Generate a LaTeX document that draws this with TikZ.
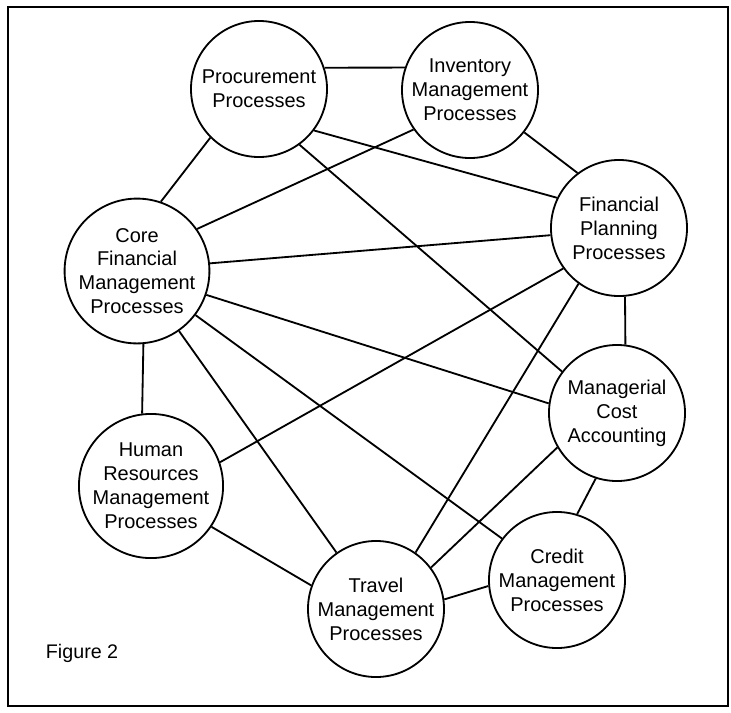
\documentclass[tikz,border=0pt]{standalone}
\usepackage{fontspec}
\setmainfont{Liberation Sans}
\usetikzlibrary{positioning}

\begin{document}
\begin{tikzpicture}[
    x=0.025cm, y=-0.025cm,
    % Styles
    process/.style={draw, circle, line width=1.3pt, minimum size=3.4cm, inner sep=0pt, align=center, font=\fontsize{14.2}{17}\selectfont},
    link/.style={line width=1.3pt},
    frame/.style={line width=1.6pt},
]

\useasboundingbox (0,0) rectangle (731,712);

% Outer frame
\draw[frame] (8,7) rectangle (728,706);

% Process circles
\node[process] (proc) at (259,89) {Procurement\\Processes};
\node[process] (inv) at (470,90) {Inventory\\Management\\Processes};
\node[process] (fin-plan) at (619,228) {Financial\\Planning\\Processes};
\node[process] (core) at (137,271) {Core\\Financial\\Management\\Processes};
\node[process] (mca) at (617,413) {Managerial\\Cost\\Accounting};
\node[process] (hr) at (151,486) {Human\\Resources\\Management\\Processes};
\node[process] (travel) at (376,609) {Travel\\Management\\Processes};
\node[process] (credit) at (557,580) {Credit\\Management\\Processes};

% Caption
\node[font=\fontsize{14}{17}\selectfont, anchor=base west] (fig) at (41,658) {Figure 2};

% Connectors
\draw[link] (proc.18) -- (inv.161);
\draw[link] (proc.225) -- (core.71);
\draw[link] (proc.-37) -- (fin-plan.154);
\draw[link] (proc.-54) -- (mca.143);
\draw[link] (inv.-38) -- (fin-plan.127);
\draw[link] (inv.215) -- (core.35);
\draw[link] (core.6) -- (fin-plan.186);
\draw[link] (core.-19) -- (mca.172);
\draw[link] (core.-37) -- (credit.143);
\draw[link] (core.-55) -- (travel.125);
\draw[link] (core.275) -- (hr.97);
\draw[link] (fin-plan.216) -- (hr.19);
\draw[link] (fin-plan.234) -- (travel.55);
\draw[link] (fin-plan.275) -- (mca.83);
\draw[link] (mca.210) -- (travel.37);
\draw[link] (mca.252) -- (credit.73);
\draw[link] (hr.-34) -- (travel.160);
\draw[link] (travel.8) -- (credit.185);

\end{tikzpicture}
\end{document}
